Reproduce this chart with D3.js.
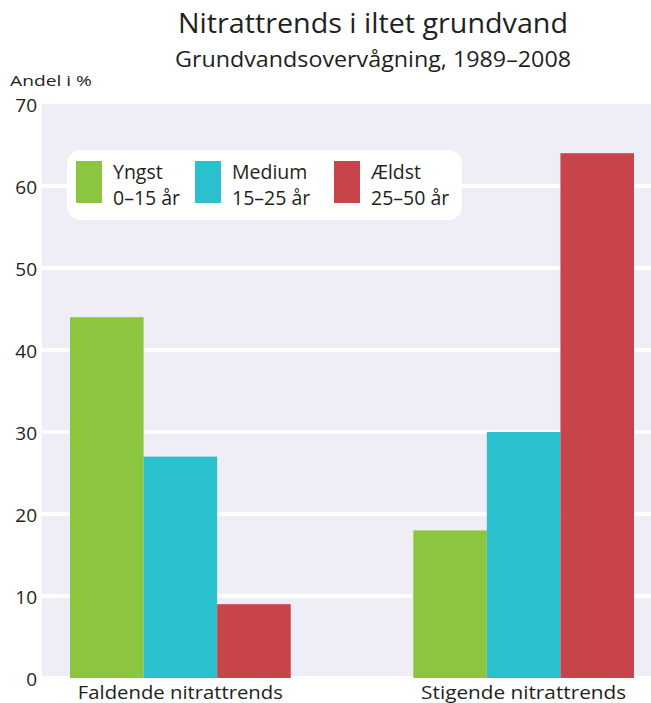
<!DOCTYPE html>
<html>
<head>
<meta charset="utf-8">
<script src="https://cdn.jsdelivr.net/npm/d3@7/dist/d3.min.js"></script>
<style>
  body { margin: 0; background: #fff; }
  text { font-family: "Open Sans", "Noto Sans", sans-serif; fill: #231f20; }
</style>
</head>
<body>
<svg id="chart" width="651" height="703"></svg>
<script>
// data
var categories = ["Faldende nitrattrends", "Stigende nitrattrends"];
var seriesNames = ["Yngst", "Medium", "Ældst"];
var seriesAges = ["0–15 år", "15–25 år", "25–50 år"];
var yngst = [44, 18];
var medium = [27, 30];
var aeldst = [9, 64];
var yTicks = [0, 10, 20, 30, 40, 50, 60, 70];

var colors = ["#8cc63f", "#2bc0cd", "#c8444b"];
var seriesValues = [yngst, medium, aeldst];

var svg = d3.select("#chart");
var plotLeft = 42, plotRight = 651, plotTop = 104, plotBottom = 678;

var y = d3.scaleLinear().domain([0, 70]).range([plotBottom, plotTop]);
var x0 = d3.scaleBand().domain(categories).range([70, 634]).paddingInner(0.357).paddingOuter(0);
var x1 = d3.scaleBand().domain(seriesNames).range([0, x0.bandwidth()]).padding(0);

// background
svg.append("rect")
  .attr("x", plotLeft).attr("y", plotTop)
  .attr("width", plotRight - plotLeft).attr("height", plotBottom - plotTop - 2)
  .attr("fill", "#efeef7");

// gridlines
svg.append("g").selectAll("line")
  .data(yTicks.filter(function(d) { return d > 0 && d < 70; }))
  .enter().append("line")
    .attr("x1", plotLeft).attr("x2", plotRight)
    .attr("y1", function(d) { return y(d); })
    .attr("y2", function(d) { return y(d); })
    .attr("stroke", "#fff").attr("stroke-width", 4);

// y labels
svg.append("g").selectAll("text")
  .data(yTicks)
  .enter().append("text")
    .attr("x", 37)
    .attr("y", function(d) { return y(d) + 8; })
    .attr("text-anchor", "end")
    .style("font-size", "19px")
    .text(function(d) { return d; });

// bars
var group = svg.append("g").selectAll("g")
  .data(categories)
  .enter().append("g")
    .attr("transform", function(d) { return "translate(" + x0(d) + ",0)"; });

group.selectAll("rect")
  .data(function(d, i) {
    return seriesNames.map(function(s, j) { return { key: s, value: seriesValues[j][i], color: colors[j] }; });
  })
  .enter().append("rect")
    .attr("x", function(d) { return x1(d.key); })
    .attr("y", function(d) { return y(d.value); })
    .attr("width", x1.bandwidth())
    .attr("height", function(d) { return plotBottom - y(d.value); })
    .attr("fill", function(d) { return d.color; });

// category labels
svg.append("g").selectAll("text")
  .data(categories)
  .enter().append("text")
    .attr("x", function(d) { return x0(d) + x0.bandwidth() / 2; })
    .attr("y", 699)
    .attr("text-anchor", "middle")
    .style("font-size", "18px")
    .attr("textLength", 205).attr("lengthAdjust", "spacingAndGlyphs")
    .text(function(d) { return d; });

// titles
svg.append("text")
  .attr("x", 373).attr("y", 33)
  .attr("text-anchor", "middle")
  .style("font-size", "28px")
  .attr("textLength", 390).attr("lengthAdjust", "spacingAndGlyphs")
  .text("Nitrattrends i iltet grundvand");

svg.append("text")
  .attr("x", 373).attr("y", 67)
  .attr("text-anchor", "middle")
  .style("font-size", "21px")
  .attr("textLength", 396).attr("lengthAdjust", "spacingAndGlyphs")
  .text("Grundvandsovervågning, 1989–2008");

svg.append("text")
  .attr("x", 10).attr("y", 86)
  .style("font-size", "15px")
  .attr("textLength", 82).attr("lengthAdjust", "spacingAndGlyphs")
  .text("Andel i %");

// legend
var legend = svg.append("g");
legend.append("rect")
  .attr("x", 67).attr("y", 150)
  .attr("width", 395).attr("height", 70)
  .attr("rx", 14)
  .attr("fill", "#fff");

var legendX = [76, 195, 334];
var item = legend.selectAll("g.item")
  .data(seriesNames)
  .enter().append("g")
    .attr("class", "item")
    .attr("transform", function(d, i) { return "translate(" + legendX[i] + ",0)"; });

item.append("rect")
  .attr("x", 0).attr("y", 161)
  .attr("width", 26).attr("height", 42)
  .attr("fill", function(d, i) { return colors[i]; });

item.append("text")
  .attr("x", 37).attr("y", 179)
  .style("font-size", "19.5px")
  .text(function(d) { return d; });

item.append("text")
  .attr("x", 37).attr("y", 205)
  .style("font-size", "19.5px")
  .text(function(d, i) { return seriesAges[i]; });
</script>
</body>
</html>
